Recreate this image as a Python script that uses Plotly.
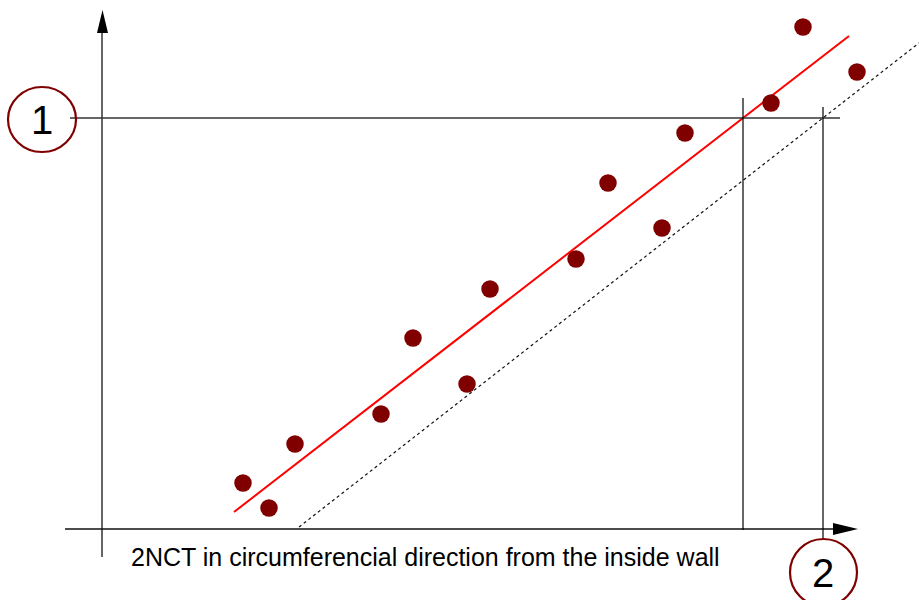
import plotly.graph_objects as go

# Measured points (chart units, y grows downward as in the drawing)
pts_x = [243, 269, 295, 381, 413, 467, 490, 576, 608, 662, 685, 771, 803, 857]
pts_y = [483, 508, 444, 414, 338, 384, 289, 259, 183, 228, 133, 103, 27, 72]

fit_x = [234, 849]
fit_y = [512, 36]

shift_x = [299, 919]
shift_y = [527, 43]

level_y = 118
cross1_x = 743
cross2_x = 823

axis_x0, axis_y0 = 102, 529
label_1 = "1"
label_2 = "2"
xlabel = "2NCT in circumferencial direction from the inside wall"

fig = go.Figure()
fig.add_trace(go.Scatter(x=shift_x, y=shift_y, mode="lines",
                         line=dict(color="#111111", width=1.2, dash="dot"), hoverinfo="skip"))
fig.add_trace(go.Scatter(x=fit_x, y=fit_y, mode="lines",
                         line=dict(color="#ff0000", width=2), hoverinfo="skip"))
fig.add_trace(go.Scatter(x=pts_x, y=pts_y, mode="markers",
                         marker=dict(color="#800000", size=17.5, line=dict(width=0))))

axc = "#333333"
shapes = [
    # axes
    dict(type="line", x0=axis_x0, x1=axis_x0, y0=557, y1=30, line=dict(color=axc, width=1.5)),
    dict(type="line", x0=65, x1=840, y0=axis_y0, y1=axis_y0, line=dict(color="#111111", width=1.5)),
    dict(type="path", path="M 97 33 L 108 33 L 102.5 10 Z", fillcolor="#000000", line=dict(width=0)),
    dict(type="path", path="M 833 523 L 833 535 L 858 529 Z", fillcolor="#000000", line=dict(width=0)),
    # reference lines
    dict(type="line", x0=70, x1=840, y0=level_y, y1=level_y, line=dict(color=axc, width=1.3)),
    dict(type="line", x0=cross1_x, x1=cross1_x, y0=98, y1=530, line=dict(color="#000000", width=1.2)),
    dict(type="line", x0=cross2_x, x1=cross2_x, y0=107, y1=539, line=dict(color="#000000", width=1.2)),
    # circles
    dict(type="circle", x0=8, x1=76, y0=87, y1=152, line=dict(color="#800000", width=2.2)),
    dict(type="circle", x0=790, x1=857, y0=539, y1=606, line=dict(color="#800000", width=2.2)),
]

annotations = [
    dict(x=42, y=120, text=label_1, showarrow=False, font=dict(size=40, color="#000000", family="Liberation Sans, Arial")),
    dict(x=823, y=573, text=label_2, showarrow=False, font=dict(size=40, color="#000000", family="Liberation Sans, Arial")),
    dict(x=425.5, y=557, text=xlabel, showarrow=False, font=dict(size=25, color="#000000", family="Liberation Sans, Arial")),
]

fig.update_layout(
    width=919, height=600, autosize=False,
    margin=dict(l=0, r=0, t=0, b=0),
    paper_bgcolor="white", plot_bgcolor="white",
    showlegend=False,
    shapes=shapes, annotations=annotations,
    xaxis=dict(range=[0, 919], visible=False, fixedrange=True),
    yaxis=dict(range=[600, 0], visible=False, fixedrange=True),
)
fig.write_html("out.html", config={"displayModeBar": False},
               post_script="document.body.style.margin='0';document.body.style.overflow='hidden';")
